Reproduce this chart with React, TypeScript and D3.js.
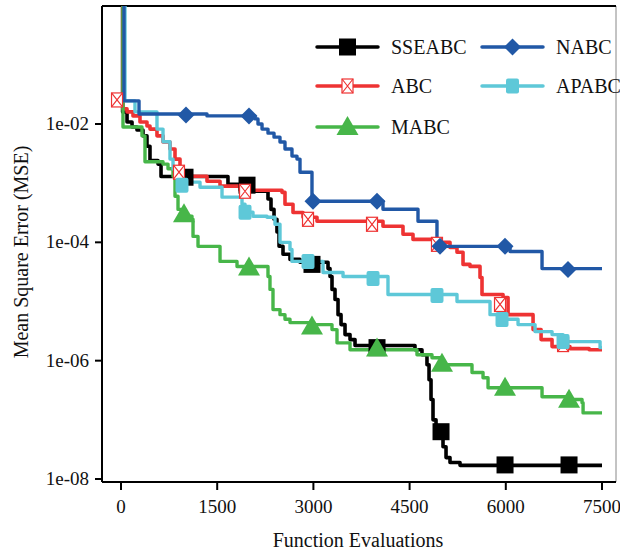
import * as d3 from "d3";

// x = function evaluations, y = MSE (step curves)
const SSEABC: [number, number][] = [
  [0, 2], [25, 1.6e-2], [94, 1.08e-2], [172, 8.9e-3], [249, 7.9e-3], [343, 6.3e-3],
  [405, 4.2e-3], [452, 2.4e-3], [577, 2.1e-3], [624, 1.3e-3], [1668, 9.6e-4],
  [2012, 7.3e-4], [2292, 5.4e-4], [2339, 3.6e-4], [2386, 2.45e-4], [2432, 1.5e-4],
  [2464, 8.6e-5], [2526, 6.3e-5], [2635, 5.15e-5], [2791, 4.6e-5], [3228, 3.6e-5],
  [3259, 2.65e-5], [3290, 1.6e-5], [3337, 1.08e-5], [3384, 6.0e-6], [3431, 4.07e-6],
  [3493, 2.76e-6], [3571, 2.27e-6], [3649, 1.8e-6], [4584, 1.53e-6], [4693, 1.26e-6],
  [4771, 8.55e-7], [4803, 4.76e-7], [4834, 2.2e-7], [4865, 1.0e-7], [4912, 6.8e-8],
  [5021, 3.5e-8], [5068, 2.3e-8], [5130, 1.9e-8], [5286, 1.7e-8], [7500, 1.7e-8],
];

const NABC: [number, number][] = [
  [0, 2], [47, 2.46e-2], [281, 1.48e-2], [1341, 1.37e-2], [2089, 1.22e-2],
  [2136, 1.0e-2], [2199, 8.2e-3], [2292, 7.0e-3], [2386, 6.0e-3], [2479, 4.96e-3],
  [2557, 3.77e-3], [2666, 2.87e-3], [2744, 2.55e-3], [2791, 1.53e-3], [2978, 4.96e-4],
  [4085, 3.62e-4], [4631, 2.27e-4], [4927, 8.55e-5], [6066, 7.0e-5], [6565, 3.6e-5],
  [7500, 3.6e-5],
];

const ABC: [number, number][] = [
  [0, 2], [31, 1.8e-2], [94, 1.6e-2], [187, 1.37e-2], [296, 1.08e-2], [405, 9.25e-3],
  [452, 8.2e-3], [561, 6.3e-3], [655, 4.96e-3], [764, 3.77e-3], [842, 2.55e-3],
  [920, 1.87e-3], [967, 1.31e-3], [1341, 1.08e-3], [1544, 8.9e-4], [1856, 7.6e-4],
  [2510, 7.0e-4], [2557, 4.4e-4], [2682, 3.2e-4], [2838, 2.65e-4], [3056, 2.27e-4],
  [4085, 1.87e-4], [4397, 1.37e-4], [4553, 1.12e-4], [4865, 1.0e-4], [5130, 8.2e-5],
  [5239, 6.8e-5], [5333, 4.24e-5], [5442, 3.92e-5], [5598, 2.55e-5], [5629, 1.31e-5],
  [5957, 1.17e-5], [6035, 6.0e-6], [6425, 3.35e-6], [6550, 2.27e-6], [6721, 1.73e-6],
  [7000, 1.6e-6], [7300, 1.53e-6], [7500, 1.53e-6],
];

const APABC: [number, number][] = [
  [0, 2], [62, 2.46e-2], [218, 1.6e-2], [561, 8.2e-3], [655, 5.0e-3], [764, 2.55e-3],
  [811, 1.73e-3], [873, 1.31e-3], [920, 1.17e-3], [967, 1.04e-3], [1232, 8.55e-4],
  [1575, 5.8e-4], [1887, 4.4e-4], [1934, 3.22e-4], [2058, 2.76e-4], [2277, 2.65e-4],
  [2401, 2.02e-4], [2479, 1.0e-4], [2635, 7.6e-5], [2666, 4.76e-5], [3150, 3.1e-5],
  [3462, 2.65e-5], [4163, 1.31e-5], [5239, 1.0e-5], [5754, 6.0e-6], [5941, 5.0e-6],
  [6191, 4.07e-6], [6456, 3.1e-6], [6721, 2.76e-6], [6893, 2.1e-6], [7470, 1.66e-6],
  [7500, 1.66e-6],
];

const MABC: [number, number][] = [
  [0, 2], [31, 8.9e-3], [327, 6.3e-3], [374, 2.3e-3], [655, 2.1e-3], [733, 1.75e-3],
  [811, 1.31e-3], [842, 6.0e-4], [889, 3.6e-4], [967, 2.76e-4], [1107, 2.45e-4],
  [1123, 1.26e-4], [1201, 8.55e-5], [1544, 4.76e-5], [1809, 3.9e-5], [2292, 2.65e-5],
  [2323, 1.6e-5], [2370, 7.3e-6], [2479, 6.0e-6], [2557, 5.0e-6], [2635, 4.4e-6],
  [2947, 4.07e-6], [3290, 3.35e-6], [3368, 2.0e-6], [3571, 1.53e-6], [4615, 1.26e-6],
  [4849, 1.12e-6], [5005, 8.55e-7], [5473, 6.3e-7], [5645, 5.15e-7], [5723, 3.48e-7],
  [6565, 2.45e-7], [6970, 2.2e-7], [7189, 1.94e-7], [7205, 1.31e-7], [7500, 1.31e-7],
];

// marker positions
const SSEABC_MARKS: [number, number][] = [
  [998, 1.26e-3], [1965, 9.25e-4], [2978, 4.24e-5], [3992, 1.66e-6],
  [4990, 6.3e-8], [5988, 1.73e-8], [6986, 1.73e-8],
];
const NABC_MARKS: [number, number][] = [
  [1014, 1.42e-2], [1996, 1.37e-2], [2994, 4.96e-4], [3992, 4.96e-4],
  [4974, 8.55e-5], [5988, 8.55e-5], [6970, 3.48e-5],
];
const ABC_MARKS: [number, number][] = [
  [-62, 2.55e-2], [904, 1.53e-3], [1934, 7.3e-4], [2916, 2.45e-4], [3914, 2.02e-4],
  [4927, 9.25e-5], [5910, 8.9e-6], [6893, 1.87e-6],
];
const APABC_MARKS: [number, number][] = [
  [951, 9.25e-4], [1934, 3.22e-4], [2916, 4.76e-5], [3930, 2.45e-5],
  [4927, 1.26e-5], [5941, 4.96e-6], [6893, 2.1e-6],
];
const MABC_MARKS: [number, number][] = [
  [982, 2.98e-4], [1996, 3.77e-5], [2978, 3.77e-6], [3992, 1.6e-6],
  [5005, 8.9e-7], [5988, 3.48e-7], [6986, 2.18e-7],
];

const X_TICKS = [0, 1500, 3000, 4500, 6000, 7500];
const Y_TICKS = [1e-2, 1e-4, 1e-6, 1e-8];
const Y_TICK_LABELS = ["1e-02", "1e-04", "1e-06", "1e-08"];

type Shape = "square" | "diamond" | "boxX" | "roundSquare" | "triangle";

const SERIES = [
  { name: "SSEABC", data: SSEABC, marks: SSEABC_MARKS, color: "#000000", shape: "square" as Shape, width: 3.6 },
  { name: "ABC", data: ABC, marks: ABC_MARKS, color: "#ee3333", shape: "boxX" as Shape, width: 3.6 },
  { name: "MABC", data: MABC, marks: MABC_MARKS, color: "#47b649", shape: "triangle" as Shape, width: 3.4 },
  { name: "APABC", data: APABC, marks: APABC_MARKS, color: "#5ec8d8", shape: "roundSquare" as Shape, width: 3.4 },
  { name: "NABC", data: NABC, marks: NABC_MARKS, color: "#2158a6", shape: "diamond" as Shape, width: 3.4 },
];

const LEGEND = [
  { name: "SSEABC", col: 0, row: 0 },
  { name: "NABC", col: 1, row: 0 },
  { name: "ABC", col: 0, row: 1 },
  { name: "APABC", col: 1, row: 1 },
  { name: "MABC", col: 0, row: 2 },
];

const FONT = "'Liberation Serif', 'DejaVu Serif', serif";

function Marker({ shape, x, y, color }: { shape: Shape; x: number; y: number; color: string }) {
  if (shape === "square") {
    return <rect x={x - 8.5} y={y - 8.5} width={17} height={17} fill={color} />;
  }
  if (shape === "diamond") {
    return <path d={`M${x},${y - 8.5} L${x + 8.5},${y} L${x},${y + 8.5} L${x - 8.5},${y} Z`} fill={color} />;
  }
  if (shape === "triangle") {
    return <path d={`M${x},${y - 11} L${x + 11},${y + 8} L${x - 11},${y + 8} Z`} fill={color} />;
  }
  if (shape === "roundSquare") {
    return <rect x={x - 6.5} y={y - 7.5} width={13} height={15} rx={2} fill={color} />;
  }
  // boxX
  return (
    <g stroke={color} strokeWidth={1.2} fill="#fff">
      <rect x={x - 5.5} y={y - 7} width={11} height={14} />
      <path d={`M${x - 5.5},${y - 7} L${x + 5.5},${y + 7} M${x + 5.5},${y - 7} L${x - 5.5},${y + 7}`} fill="none" />
    </g>
  );
}

export default function App() {
  const width = 620;
  const height = 554;
  const frame = { left: 102, right: 616, top: 6, bottom: 482 };

  const x = d3.scaleLinear().domain([0, 7500]).range([121, 602]);
  const y = d3.scaleLog().domain([1e-8, 1e-2]).range([479, 124]);

  const line = d3
    .line<[number, number]>()
    .x((d) => x(d[0]))
    .y((d) => y(d[1]))
    .curve(d3.curveStepAfter);

  const colorOf = (name: string) => SERIES.find((s) => s.name === name)!;

  return (
    <svg
      width={width}
      height={height}
      style={{ position: "absolute", left: 0, top: 0, background: "#fff" }}
      fontFamily={FONT}
    >
      <defs>
        <clipPath id="plot-clip">
          <rect x={frame.left} y={frame.top} width={frame.right - frame.left} height={frame.bottom - frame.top} />
        </clipPath>
      </defs>

      {/* frame */}
      <line x1={frame.right} x2={frame.right} y1={frame.top} y2={frame.bottom} stroke="#888" strokeWidth={1} />
      <line x1={frame.left} x2={frame.right} y1={frame.top} y2={frame.top} stroke="#000" strokeWidth={2} />
      <line x1={frame.left} x2={frame.left} y1={frame.top} y2={frame.bottom} stroke="#000" strokeWidth={2} />
      <line x1={frame.left} x2={frame.right} y1={frame.bottom} y2={frame.bottom} stroke="#000" strokeWidth={2} />

      {/* y axis */}
      {Y_TICKS.map((t, i) => (
        <g key={t}>
          <line x1={frame.left - 7} x2={frame.left} y1={y(t)} y2={y(t)} stroke="#000" strokeWidth={2} />
          <text x={89} y={y(t) + 6} textAnchor="end" fontSize={19} fill="#111">
            {Y_TICK_LABELS[i]}
          </text>
        </g>
      ))}

      {/* x axis */}
      {X_TICKS.map((t) => (
        <g key={t}>
          <line x1={x(t)} x2={x(t)} y1={frame.bottom} y2={frame.bottom + 8} stroke="#000" strokeWidth={2} />
          <text x={x(t)} y={513} textAnchor="middle" fontSize={19} fill="#111">
            {t}
          </text>
        </g>
      ))}

      <text x={358} y={547} textAnchor="middle" fontSize={20} fill="#111">
        Function Evaluations
      </text>
      <text
        transform={`translate(28, ${(frame.top + frame.bottom) / 2 + 8}) rotate(-90)`}
        textAnchor="middle"
        fontSize={20}
        fill="#111"
      >
        Mean Square Error (MSE)
      </text>

      {/* series */}
      <g clipPath="url(#plot-clip)">
        {SERIES.map((s) => (
          <path
            key={s.name}
            d={line(s.data) ?? ""}
            fill="none"
            stroke={s.color}
            strokeWidth={s.width}
            strokeLinejoin="round"
          />
        ))}
        {SERIES.map((s) => (
          <g key={`${s.name}-marks`}>
            {s.marks.map((m, i) => (
              <Marker key={i} shape={s.shape} x={x(m[0])} y={y(m[1])} color={s.color} />
            ))}
          </g>
        ))}
      </g>

      {/* legend */}
      {LEGEND.map((l) => {
        const s = colorOf(l.name);
        const x0 = l.col === 0 ? 317 : 482;
        const yy = [47, 86, 127][l.row];
        const x1 = x0 + 61;
        return (
          <g key={l.name}>
            <line x1={x0} x2={x1} y1={yy} y2={yy} stroke={s.color} strokeWidth={3.5} strokeLinecap="round" />
            <Marker shape={s.shape} x={(x0 + x1) / 2} y={yy} color={s.color} />
            <text x={x1 + 13} y={yy + 7} fontSize={20} fill="#111">
              {l.name}
            </text>
          </g>
        );
      })}
    </svg>
  );
}
